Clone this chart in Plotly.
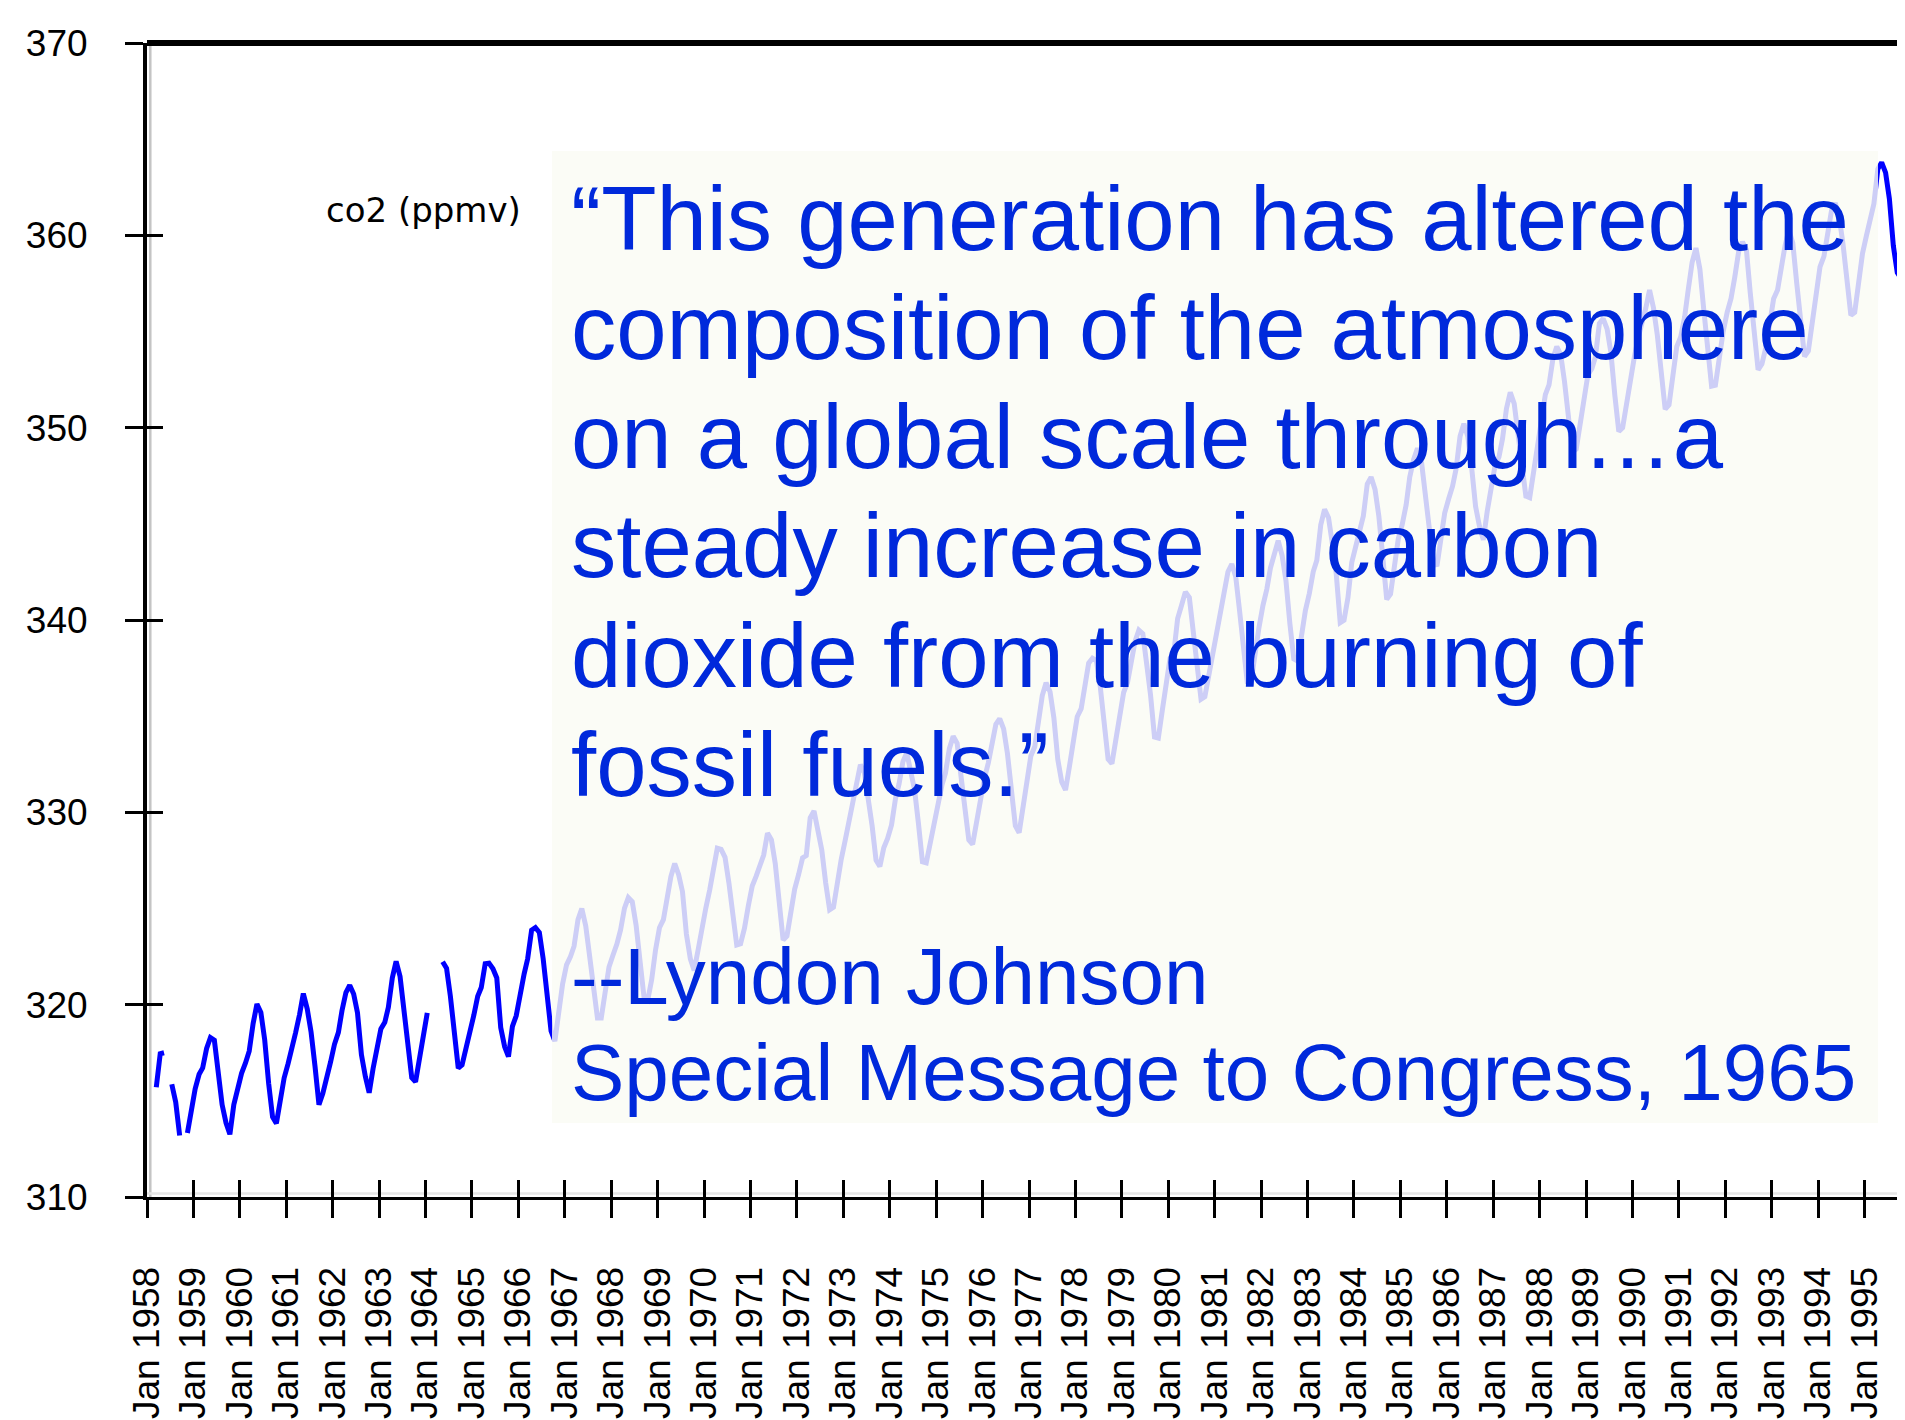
import plotly.graph_objects as go

# ---------------- data (monthly mean CO2, ppmv; None = no reading) ----------------
first_year = 1958
last_year = 1995

co2_1958_1963 = [
    None, None, 315.71, 317.45, 317.50, None, 315.86, 314.93, 313.20, None, 313.33, 314.67,   # 1958
    315.62, 316.38, 316.71, 317.72, 318.29, 318.15, 316.54, 314.80, 313.84, 313.26, 314.80, 315.58,  # 1959
    316.43, 316.97, 317.58, 319.02, 320.03, 319.59, 318.18, 315.91, 314.16, 313.83, 315.00, 316.19,  # 1960
    316.93, 317.70, 318.54, 319.48, 320.58, 319.77, 318.57, 316.79, 314.80, 315.38, 316.10, 317.01,  # 1961
    317.94, 318.56, 319.68, 320.63, 321.01, 320.55, 319.58, 317.40, 316.26, 315.42, 316.69, 317.69,  # 1962
    318.74, 319.08, 319.86, 321.39, 322.25, 321.47, 319.74, 317.77, 316.21, 315.99, 317.12, 318.31,  # 1963
]
co2_1964_1969 = [
    319.57, None, None, None, 322.23, 321.89, 320.44, 318.70, 316.70, 316.87, 317.68, 318.71,  # 1964
    319.44, 320.44, 320.89, 322.13, 322.16, 321.87, 321.39, 318.81, 317.81, 317.30, 318.87, 319.42,  # 1965
    320.62, 321.59, 322.39, 323.87, 324.01, 323.75, 322.39, 320.37, 318.64, 318.10, 319.79, 321.08,  # 1966
    322.07, 322.50, 323.04, 324.42, 325.00, 324.09, 322.55, 320.92, 319.31, 319.31, 320.72, 321.96,  # 1967
    322.57, 323.15, 323.89, 325.02, 325.57, 325.36, 324.14, 322.03, 320.41, 320.25, 321.31, 322.84,  # 1968
    324.00, 324.42, 325.64, 326.66, 327.34, 326.76, 325.88, 323.67, 322.38, 321.78, 322.85, 324.12,  # 1969
]
co2_1970s = [
    325.03, 325.99, 326.87, 328.13, 328.07, 327.66, 326.35, 324.69, 323.10, 323.16, 323.98, 325.13,  # 1970
    326.17, 326.68, 327.18, 327.78, 328.92, 328.57, 327.34, 325.46, 323.36, 323.57, 324.80, 326.01,  # 1971
    326.77, 327.63, 327.75, 329.72, 330.07, 329.09, 328.05, 326.32, 324.93, 325.06, 326.50, 327.55,  # 1972
    328.54, 329.56, 330.30, 331.50, 332.48, 332.07, 330.87, 329.31, 327.51, 327.18, 328.16, 328.64,  # 1973
    329.35, 330.71, 331.48, 332.65, 333.09, 332.25, 331.18, 329.40, 327.43, 327.37, 328.46, 329.57,  # 1974
    330.40, 331.40, 332.04, 333.31, 333.96, 333.59, 331.91, 330.06, 328.56, 328.34, 329.49, 330.76,  # 1975
    331.75, 332.56, 333.50, 334.58, 334.87, 334.34, 333.05, 330.94, 329.30, 328.94, 330.31, 331.68,  # 1976
    332.93, 333.42, 334.70, 336.07, 336.74, 336.27, 334.93, 332.75, 331.58, 331.16, 332.40, 333.85,  # 1977
    334.97, 335.39, 336.64, 337.76, 338.01, 337.89, 336.54, 334.68, 332.76, 332.54, 333.92, 334.95,  # 1978
    336.23, 336.76, 337.96, 338.89, 339.47, 339.29, 337.73, 336.09, 333.91, 333.86, 335.29, 336.73,  # 1979
]
co2_1980s = [
    338.01, 338.36, 340.08, 340.77, 341.46, 341.17, 339.56, 337.60, 335.88, 336.01, 337.10, 338.21,  # 1980
    339.24, 340.48, 341.38, 342.51, 342.91, 342.25, 340.49, 338.43, 336.69, 336.85, 338.36, 339.61,  # 1981
    340.75, 341.61, 342.70, 343.56, 344.13, 343.35, 342.06, 339.82, 337.97, 337.86, 339.26, 340.49,  # 1982
    341.38, 342.52, 343.10, 344.94, 345.75, 345.32, 343.99, 342.39, 339.86, 339.99, 341.16, 342.99,  # 1983
    343.82, 344.63, 345.40, 347.07, 347.43, 346.79, 345.40, 343.28, 341.07, 341.35, 342.98, 344.22,  # 1984
    344.97, 345.99, 347.42, 348.35, 348.93, 348.25, 346.56, 344.69, 343.09, 342.80, 344.24, 345.56,  # 1985
    346.29, 346.96, 347.86, 349.55, 350.21, 349.54, 347.94, 345.91, 344.86, 344.17, 345.66, 346.90,  # 1986
    348.02, 348.47, 349.42, 350.99, 351.84, 351.25, 349.52, 348.10, 346.44, 346.36, 347.81, 348.96,  # 1987
    350.43, 351.72, 352.22, 353.59, 354.22, 353.79, 352.39, 350.44, 348.72, 348.88, 350.07, 351.34,  # 1988
    352.76, 353.07, 353.68, 355.42, 355.67, 355.13, 353.90, 351.67, 349.80, 349.99, 351.30, 352.53,  # 1989
]
co2_1990s = [
    353.66, 354.70, 355.39, 356.20, 357.16, 356.22, 354.82, 352.91, 350.96, 351.18, 352.83, 354.21,  # 1990
    354.72, 355.75, 357.16, 358.60, 359.34, 358.24, 356.17, 354.03, 352.16, 352.21, 353.75, 354.99,  # 1991
    355.98, 356.72, 357.81, 359.15, 359.66, 359.25, 357.03, 355.00, 353.01, 353.31, 354.16, 355.40,  # 1992
    356.70, 357.16, 358.38, 359.46, 360.28, 359.60, 357.57, 355.52, 353.70, 353.98, 355.33, 356.80,  # 1993
    358.36, 358.91, 359.97, 361.26, 361.68, 360.95, 359.55, 357.49, 355.84, 355.99, 357.58, 359.04,  # 1994
    359.97, 361.00, 361.64, 363.45, 363.79, 363.26, 361.90, 359.46, 358.06, 357.75, 359.56, 360.70,  # 1995
]

y_tick_values = [310, 320, 330, 340, 350, 360, 370]
tick_years = list(range(first_year, last_year + 1))
x_tick_labels = ["Jan %d" % y for y in tick_years]

series_label = "co2 (ppmv)"
quote_lines = [
    "\u201cThis generation has altered the",
    "composition of the atmosphere",
    "on a global scale through\u2026a",
    "steady increase in carbon",
    "dioxide from the burning of",
    "fossil fuels.\u201d",
]
attribution_lines = [
    "--Lyndon Johnson",
    "Special Message to Congress, 1965",
]

# ---------------- build ----------------
co2 = co2_1958_1963 + co2_1964_1969 + co2_1970s + co2_1980s + co2_1990s
months = ["%d-%02d-15" % (y, m) for y in range(first_year, last_year + 1) for m in range(1, 13)]
tick_vals = ["%d-01-01" % y for y in tick_years]
x_range = ["%d-01-01" % first_year, "%d-01-01" % (last_year + 1)]

W, H = 1905, 1420
ML, MR, MT, MB = 139, 2, 35, 231
PW, PH = W - ML - MR, H - MT - MB


def px_x(px):
    return (px - ML) / PW


def px_y(py):
    return (H - MB - py) / PH


BLUE_TEXT = "#0029DB"
SANS = "Liberation Sans, Arial, sans-serif"
AXIS_FONT = dict(family=SANS, size=37, color="black")

fig = go.Figure()
fig.add_trace(go.Scatter(
    x=months, y=co2, mode="lines", connectgaps=False,
    line=dict(color="#0000FF", width=5), hoverinfo="skip", showlegend=False,
))
# helper traces for the inner half of the crossing tick marks
fig.add_trace(go.Scatter(x=[], y=[], xaxis="x2", yaxis="y", showlegend=False))
fig.add_trace(go.Scatter(x=[], y=[], xaxis="x", yaxis="y2", showlegend=False))

fig.update_layout(
    width=W, height=H,
    margin=dict(l=ML, r=MR, t=MT, b=MB, pad=0),
    paper_bgcolor="white", plot_bgcolor="white",
    showlegend=False,
    xaxis=dict(
        type="date", range=x_range, tickmode="array", tickvals=tick_vals, ticktext=x_tick_labels,
        tickangle=-90, ticks="outside", ticklen=18, tickwidth=3, tickcolor="black",
        showline=True, linecolor="black", linewidth=3, showgrid=False, zeroline=False,
        tickfont=AXIS_FONT, ticklabelstandoff=34,
    ),
    xaxis2=dict(
        type="date", overlaying="x", anchor="y", side="bottom", range=x_range, matches="x",
        tickmode="array", tickvals=tick_vals, ticks="inside", ticklen=17, tickwidth=3,
        tickcolor="black", showticklabels=False, showline=False, showgrid=False, zeroline=False,
    ),
    yaxis=dict(
        range=[310, 370], tickmode="array", tickvals=y_tick_values,
        ticks="outside", ticklen=18, tickwidth=3, tickcolor="black",
        showline=True, linecolor="black", linewidth=4, showgrid=False, zeroline=False,
        tickfont=AXIS_FONT, ticklabelstandoff=30,
    ),
    yaxis2=dict(
        overlaying="y", anchor="x", side="left", range=[310, 370], matches="y",
        tickmode="array", tickvals=y_tick_values, ticks="inside", ticklen=16, tickwidth=3,
        tickcolor="black", showticklabels=False, showline=False, showgrid=False, zeroline=False,
    ),
)

shapes = [
    # light shadow lines beside the axes
    dict(type="line", xref="paper", yref="paper", layer="below",
         x0=px_x(142.3), x1=px_x(142.3), y0=0, y1=1, line=dict(color="#C4C4C4", width=2.5)),
    dict(type="line", xref="paper", yref="paper", layer="below",
         x0=0, x1=1, y0=px_y(1185.5), y1=px_y(1185.5), line=dict(color="#E6E6E6", width=2.5)),
    # translucent quote panel over the curve
    dict(type="rect", xref="paper", yref="paper", layer="above",
         x0=px_x(544), x1=px_x(1870), y0=px_y(1115), y1=px_y(143),
         fillcolor="rgb(250,251,244)", opacity=0.82, line=dict(width=0)),
    # top frame line
    dict(type="line", xref="paper", yref="paper", x0=0, x1=1, y0=1, y1=1,
         line=dict(color="black", width=6)),
    # right frame line
    dict(type="line", xref="paper", yref="paper", x0=1, x1=1, y0=0, y1=1,
         line=dict(color="black", width=3)),
]
fig.update_layout(shapes=shapes)

annotations = [
    dict(text=series_label, xref="paper", yref="paper", x=px_x(515), y=px_y(202),
         xanchor="right", yanchor="middle", showarrow=False,
         font=dict(family="DejaVu Sans, sans-serif", size=34, color="black")),
]
QUOTE_SIZE = 90.5
for i, line in enumerate(quote_lines):
    baseline = 242 + i * 109.1
    annotations.append(dict(
        text=line, xref="paper", yref="paper", x=px_x(561), y=px_y(baseline - 0.3465 * QUOTE_SIZE),
        xanchor="left", yanchor="middle", showarrow=False,
        font=dict(family=SANS, size=QUOTE_SIZE, color=BLUE_TEXT)))
ATTR_SIZE = 80
for i, line in enumerate(attribution_lines):
    baseline = 996 + i * 96
    annotations.append(dict(
        text=line, xref="paper", yref="paper", x=px_x(561), y=px_y(baseline - 0.3465 * ATTR_SIZE),
        xanchor="left", yanchor="middle", showarrow=False,
        font=dict(family=SANS, size=ATTR_SIZE, color=BLUE_TEXT)))
fig.update_layout(annotations=annotations)

fig.write_html("out.html")
